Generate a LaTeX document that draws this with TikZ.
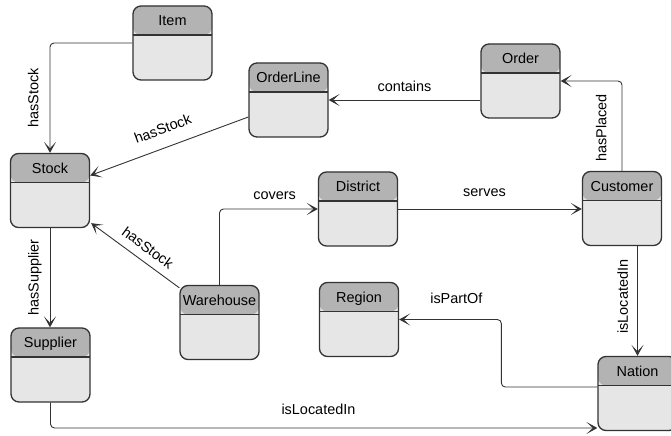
\documentclass[tikz,border=0pt]{standalone}
\usepackage{fontspec}
\setmainfont{Liberation Sans}
\usetikzlibrary{arrows.meta,calc}
\definecolor{headgray}{HTML}{B3B3B3}
\definecolor{bodygray}{HTML}{E6E6E6}
\definecolor{boxline}{HTML}{333333}
\tikzset{
	entity/.style={draw=boxline,fill=bodygray,line width=1.3bp,rounded corners=8bp,
		minimum width=79bp,inner sep=0pt,text height=19.7bp,text depth=54.3bp,
		path picture={
			\fill[headgray] (path picture bounding box.north west) rectangle ([yshift=-29bp]path picture bounding box.north east);
			\draw[boxline,line width=1.2bp] ([yshift=-29bp]path picture bounding box.north west) -- ([yshift=-29bp]path picture bounding box.north east);
		}},
	rel/.style={draw=boxline,line width=0.9bp,rounded corners=4bp,-{Stealth[length=11bp,width=12bp,inset=6.5bp]}},
	lbl/.style={inner sep=0pt}
}
\begin{document}
\begin{tikzpicture}[x=1bp,y=-1bp,font=\fontsize{14.5}{17}\selectfont]
	\useasboundingbox (0,0) rectangle (671,436);
	% entities
	\node[entity] (item) at (172.5,43) {Item};
	\node[entity] (orderline) at (288.5,100) {OrderLine};
	\node[entity] (order) at (520.5,81) {Order};
	\node[entity] (stock) at (50,190.5) {Stock};
	\node[entity] (district) at (358,209) {District};
	\node[entity] (customer) at (622,208.5) {Customer};
	\node[entity] (warehouse) at (219.5,322.5) {Warehouse};
	\node[entity] (region) at (359,319.5) {Region};
	\node[entity] (supplier) at (50.5,365) {Supplier};
	\node[entity] (nation) at (637.5,393.5) {Nation};
	% relations
	\draw[rel] (item.west) -| node[pos=0.75,rotate=90,above=11bp,lbl]{hasStock} (stock.north);
	\draw[rel] ($(orderline.west)+(0,17)$) -- node[midway,sloped,above=13bp,lbl]{hasStock} ($(stock.east)+(0,-15)$);
	\draw[rel] (orderline.east -| order.west) -- node[midway,above=8bp,lbl]{contains} (orderline.east);
	\draw[rel] (customer.north) |- node[pos=0.24,rotate=90,above=15bp,lbl]{hasPlaced} (order.east);
	\draw[rel] (district.east) -- node[pos=0.47,above=12bp,lbl]{serves} (customer.west |- district.east);
	\draw[rel] (warehouse.north) |- node[pos=0.78,above=9bp,lbl]{covers} (district.west);
	\draw[rel] ($(warehouse.north west)+(0,3)$) -- node[pos=0.45,sloped,above=8bp,lbl]{hasStock} ($(stock.south east)+(1,-5)$);
	\draw[rel] (stock.south) -- node[midway,rotate=90,above=8bp,lbl]{hasSupplier} (stock.south |- supplier.north);
	\draw[rel] (customer.south -| nation.north) -- node[pos=0.46,rotate=90,above=9bp,lbl]{isLocatedIn} (nation.north);
	\draw[rel] ($(nation.west)+(0,-6.5)$) -- ++(-96,0) |- node[pos=0.72,above=15bp,lbl]{isPartOf} (region.east);
	\draw[rel] (supplier.south) |- node[pos=0.745,above=13bp,lbl]{isLocatedIn} ($(nation.west)+(0,34.5)$);
\end{tikzpicture}
\end{document}
